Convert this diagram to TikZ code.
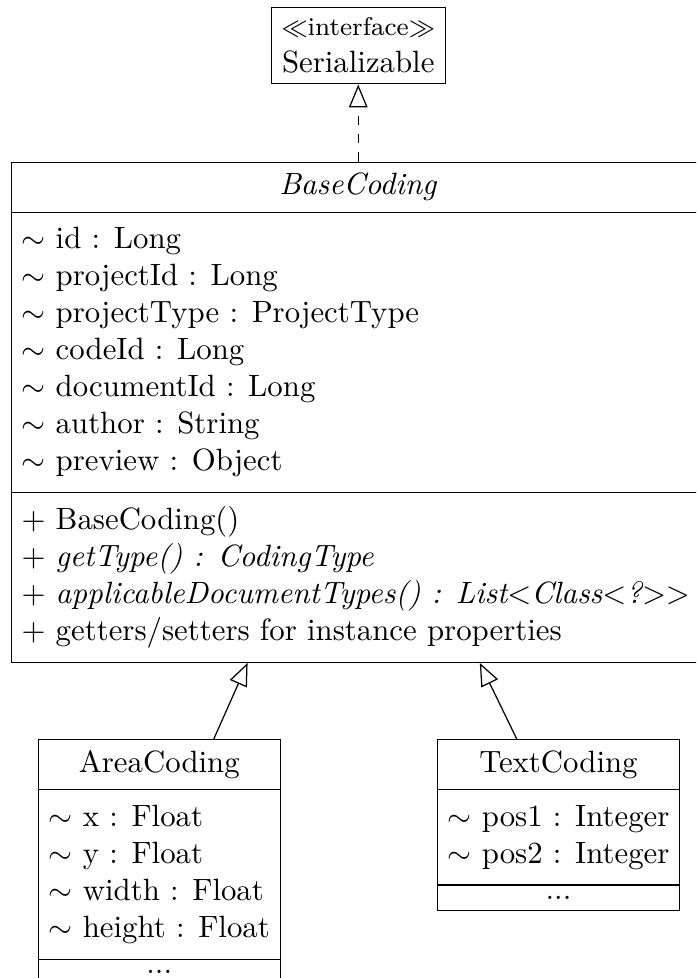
\documentclass[tikz,border=0pt]{standalone}
\usetikzlibrary{shapes.multipart,arrows.meta}

\tikzset{
  umlclass/.style={draw, line width=0.4pt, rectangle split, rectangle split parts=3,
    rectangle split part align={center,left,left}, inner sep=0.3333em, anchor=north},
  umlsub/.style={umlclass, rectangle split part align={center,left,center}},
  umliface/.style={draw, line width=0.4pt, align=center, inner sep=0.3333em, anchor=north},
  realizes/.style={dashed, line width=0.4pt, -{Triangle[open,length=7.4pt,width=6pt]}},
  inherits/.style={line width=0.4pt, -{Triangle[open,length=7.4pt,width=6pt]}},
}
\newcommand{\pkgvis}{$\sim$\ }
\newcommand{\stereotype}[1]{{\fontsize{8.3pt}{10pt}\selectfont$\ll$#1$\gg$}}

\begin{document}
\begin{tikzpicture}
  \path[use as bounding box, clip] (0pt,0pt) rectangle (225.95pt,-317.5pt);

  % interface
  \node[umliface] (ser) at (116.3pt,-2.3pt) {\stereotype{interface}\\Serializable};

  % abstract base class
  \node[umlclass, minimum width=225.3pt] (base) at (116.3pt,-52.5pt) {\textit{BaseCoding}
    \nodepart{second}\begin{tabular}{@{}l@{}}
      \pkgvis id : Long\\
      \pkgvis projectId : Long\\
      \pkgvis projectType : ProjectType\\
      \pkgvis codeId : Long\\
      \pkgvis documentId : Long\\
      \pkgvis author : String\\
      \pkgvis preview : Object
    \end{tabular}
    \nodepart{third}\begin{tabular}{@{}l@{}}
      + BaseCoding()\\
      + \textit{getType() : CodingType}\\
      + \textit{applicableDocumentTypes() : List$<$Class$<$?$>>$}\\
      + getters/setters for instance properties
    \end{tabular}};

  % subclasses
  \node[umlsub] (area) at (51.7pt,-239.9pt) {AreaCoding
    \nodepart{second}\begin{tabular}{@{}l@{}}
      \pkgvis x : Float\\
      \pkgvis y : Float\\
      \pkgvis width : Float\\
      \pkgvis height : Float
    \end{tabular}
    \nodepart{third}...};

  \node[umlsub] (textcoding) at (181.3pt,-239.9pt) {TextCoding
    \nodepart{second}\begin{tabular}{@{}l@{}}
      \pkgvis pos1 : Integer\\
      \pkgvis pos2 : Integer
    \end{tabular}
    \nodepart{third}...};

  % relations
  \draw[realizes] (base) -- (ser);
  \draw[inherits] (area) -- (base);
  \draw[inherits] (textcoding) -- (base);
\end{tikzpicture}
\end{document}
